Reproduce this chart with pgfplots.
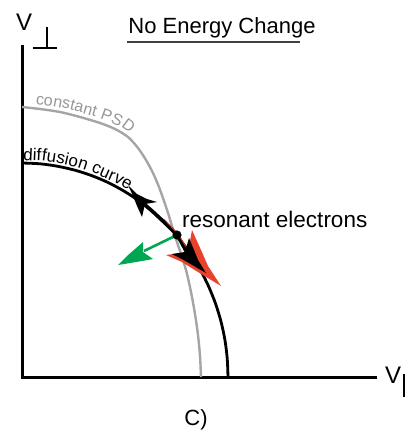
\documentclass[border=0pt]{standalone}
\usepackage{pgfplots}
\pgfplotsset{compat=1.18}
\usepackage{fontspec}
\setmainfont{Liberation Sans}
\usetikzlibrary{decorations.text}
\definecolor{psdgray}{RGB}{165,165,165}
\definecolor{psdtext}{RGB}{150,150,150}
\definecolor{arrred}{RGB}{233,66,44}
\definecolor{arrgreen}{RGB}{0,166,81}
\begin{document}
\begin{tikzpicture}
\begin{axis}[
  scale only axis, width=409bp, height=430bp,
  xmin=0, xmax=409, ymin=0, ymax=430, y dir=reverse,
  hide axis, clip=false,
]
% axes
\addplot[black, line width=3bp, line join=miter] coordinates {(22,45) (22,377) (377,377)};
% constant PSD curve
\addplot[psdgray, line width=2.4bp, smooth] coordinates {
(22,107) (40,109) (60,112) (80,117) (100,123) (115,129) (128,137) (138,148)
(146,160) (153,173) (159,187) (164,201) (169,216) (174,233) (180,251)
(186,270) (191,292) (195,314) (198,335) (200,356) (201,377)};
% diffusion curve
\addplot[black, line width=2.8bp, smooth] coordinates {
(22,163) (40.0,163.8) (57.8,166.3) (75.3,170.3) (92.5,175.9) (109.1,183.0)
(125.0,191.7) (140.2,201.7) (154.4,213.1) (167.7,225.7) (179.8,239.4)
(190.8,254.3) (200.4,270.0) (208.7,286.6) (215.6,303.8) (221.0,321.6)
(224.9,339.8) (227.2,358.3) (228,377)};
% thicker shaft along curve
\addplot[black, line width=3.6bp, smooth] coordinates {
(144,204) (154.4,213.1) (167.7,225.7) (177,235) (186,251)};
% red arrowhead (behind)
\addplot[fill=arrred, draw=none] coordinates {
(221,286) (208,266) (201,250) (192,230) (188,252) (166,255) (182,262) (198,272)} -- cycle;
\addplot[arrred, line width=0.7bp] coordinates {(164,219) (178,234) (188,250)};
% black down arrowhead
\addplot[fill=black, draw=none] coordinates {
(206,273) (198,260) (194,250) (189,238) (185,252) (172,254) (182,259) (194,266)} -- cycle;
% black up arrowhead
\addplot[fill=black, draw=none] coordinates {
(128,185) (137,194) (147,199) (157,202) (145,204) (142,217) (137,206) (133,196)} -- cycle;
% green arrow
\addplot[arrgreen, line width=2.6bp] coordinates {(175,236) (144,251)};
\addplot[fill=arrgreen, draw=none] coordinates {
(118,265) (127,256) (135,249) (143,242) (143,252) (153,259) (142,261) (130,263)} -- cycle;
% resonant electron dot
\addplot[only marks, mark=*, mark size=4.3bp, black] coordinates {(177,235)};
% perpendicular symbol and parallel bar
\addplot[black, line width=2bp] coordinates {(47,27) (47,47)};
\addplot[black, line width=2bp] coordinates {(33,47.5) (57,47.5)};
\addplot[black, line width=1.8bp] coordinates {(404,374) (404,397)};
% title underline
\addplot[black!75, line width=1.5bp] coordinates {(127,42) (300,42)};
% texts
\node[anchor=base west, inner sep=0pt] at (axis cs:16,30) {\fontsize{24bp}{28bp}\selectfont V};
\node[anchor=base west, inner sep=0pt] at (axis cs:385,383) {\fontsize{24bp}{28bp}\selectfont V};
\node[anchor=base, inner sep=0pt] at (axis cs:222,33) {\fontsize{22bp}{26bp}\selectfont No Energy Change};
\node[anchor=base west, inner sep=0pt] at (axis cs:182,227.5) {\fontsize{22.5bp}{26bp}\selectfont resonant electrons};
\node[anchor=base, inner sep=0pt] at (axis cs:196,425) {\fontsize{22bp}{26bp}\selectfont C)};
% curved labels
\path[decorate, decoration={text along path, text color=psdtext, raise=4.5bp,
  text={|\fontsize{16bp}{16bp}\selectfont|constant PSD}}]
  (axis cs:35,108.6) -- (axis cs:50,110.3) -- (axis cs:65,113.2) -- (axis cs:80,117)
  -- (axis cs:95,121.3) -- (axis cs:108,126) -- (axis cs:120,131.6) -- (axis cs:130,139)
  -- (axis cs:138,148) -- (axis cs:146,160) -- (axis cs:153,173) -- (axis cs:159,187);
\path[decorate, decoration={text along path, text color=black, raise=3bp,
  text={|\fontsize{17bp}{17bp}\selectfont|diffusion curve}}]
  (axis cs:23,163) -- (axis cs:40.0,163.8) -- (axis cs:57.8,166.3) -- (axis cs:75.3,170.3)
  -- (axis cs:92.5,175.9) -- (axis cs:109.1,183.0) -- (axis cs:125.0,191.7)
  -- (axis cs:140.2,201.7) -- (axis cs:154.4,213.1) -- (axis cs:167.7,225.7);
\coordinate (BL) at (axis cs:0,430);
\coordinate (TR) at (axis cs:409,0);
\end{axis}
\pgfresetboundingbox
\path[use as bounding box] (BL) rectangle (TR);
\end{tikzpicture}
\end{document}
